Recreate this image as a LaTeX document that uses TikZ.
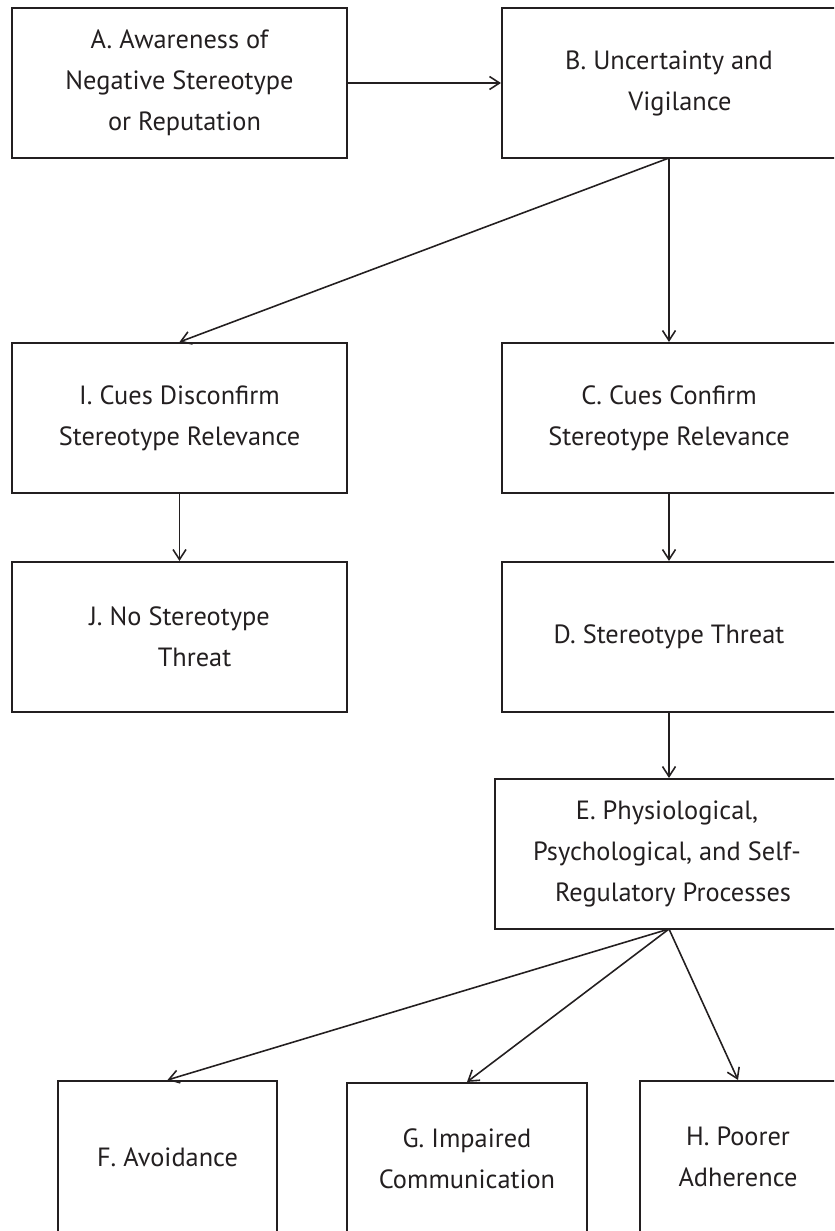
\documentclass[tikz,border=0pt]{standalone}
\usepackage{fontspec}
\setmainfont{PT Sans}
\usetikzlibrary{arrows.meta}
\tikzset{
    lab/.style={
        font=\fontsize{22.5}{35}\selectfont
    }
}

\begin{document}
\begin{tikzpicture}[x=0.03cm, y=-0.03cm]
    \def\u{0.03cm}
    \def\boxh{150}

    \definecolor{ink}{HTML}{231F20}

    \tikzset{
      stbox/.style={
        draw=ink,
        text=ink,
        line width=1.8pt,
        minimum height=\boxh*\u,
        align=center,
        inner sep=0pt,
        lab
      },
      widebox/.style={
        stbox,
        minimum width=335*\u
      },
      lowbox/.style={
        stbox,
        minimum height=152*\u
      },
      flow/.style={
        draw=ink,
        line width=1.35pt,
        -{Straight Barb[length=10*\u, width=13*\u, line width=1.35pt]}
      }
    }

    \clip (0,0) rectangle (834,1231);

    % top row
    \node[widebox] (aware) at (179.5,83) {A. Awareness of\\Negative Stereotype\\\hspace*{0.3cm}or Reputation};
    \node[widebox, minimum width=334*\u] (vigil) at (669,83) {B. Uncertainty and\\\hspace*{0.66cm}Vigilance};

    % cues
    \node[widebox] (disconf) at (179.5,418) {I. Cues Disconfirm\\Stereotype Relevance};
    \node[widebox, minimum width=334*\u] (confirm) at (669,418) {C. Cues Confirm\\Stereotype Relevance};

    \node[widebox] (nothreat) at (179.5,637) {J. No Stereotype\\\hspace*{0.9cm}Threat};
    \node[widebox, minimum width=334*\u] (threat) at (669,637) {D. Stereotype Threat};

    \node[stbox, minimum width=344*\u] (proc) at (667,854) {E. Physiological,\\Psychological, and Self-\\\hspace*{0.36cm}Regulatory Processes};

    % outcomes
    \node[lowbox, minimum width=219*\u] (avoid) at (167.5,1157) {F. Avoidance};
    \node[lowbox, minimum width=240*\u] (commun) at (467,1159) {G. Impaired\\Communication};
    \node[lowbox, minimum width=196*\u] (adher) at (738,1157) {H. Poorer\\Adherence};

    \coordinate (vigilfoot) at (669,158);
    \coordinate (procfoot) at (669,929);

    \draw[flow] (aware.east) -- (vigil.west);
    \draw[flow] (vigilfoot) -- (disconf.north);
    \draw[flow] (vigilfoot) -- (vigilfoot |- confirm.north);
    \draw[flow] (disconf.south) -- (nothreat.north);
    \draw[flow] (vigilfoot |- confirm.south) -- (vigilfoot |- threat.north);
    \draw[flow] (vigilfoot |- threat.south) -- (vigilfoot |- proc.north);
    \draw[flow] (procfoot) -- (avoid.north);
    \draw[flow] (procfoot) -- (commun.north);
    \draw[flow] (procfoot) -- (adher.north);
\end{tikzpicture}
\end{document}
